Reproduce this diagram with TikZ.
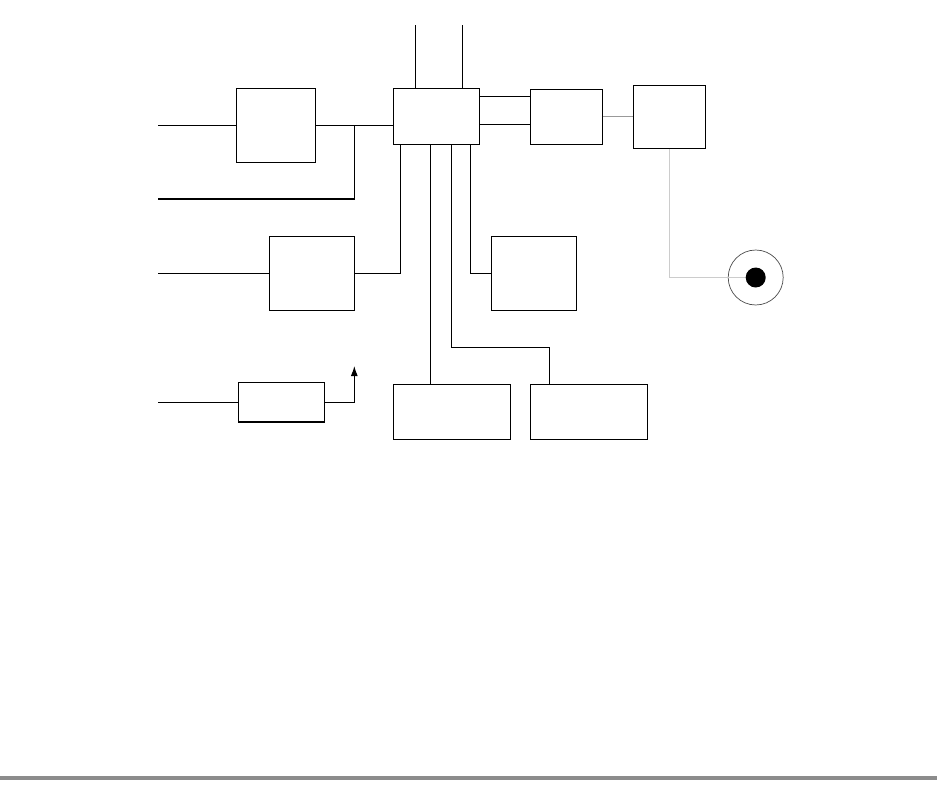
\documentclass[tikz,border=0pt]{standalone}
\usetikzlibrary{arrows.meta,calc}

\begin{document}
\begin{tikzpicture}[
    x=0.02cm, y=-0.02cm,
    blockbox/.style={draw, line width=0.7pt, inner sep=0pt, fill=white},
    wire/.style={line width=0.6pt},
    greywire/.style={line width=0.6pt, black!40},
    palewire/.style={line width=0.6pt, black!20},
    arrow/.style={-{Latex[length=2mm,width=1.4mm]}, line width=0.6pt}
]
\useasboundingbox (0,0) rectangle (937,798);

% Blocks
\node[blockbox, minimum width=1.72cm, minimum height=1.12cm] (hub) at (436.3,116.3) {};
\node[blockbox, minimum width=1.588cm, minimum height=1.48cm] (mixer) at (276,125.3) {};
\node[blockbox, minimum width=1.70cm, minimum height=1.48cm] (filter) at (311.8,273.3) {};
\node[blockbox, minimum width=1.72cm, minimum height=0.794cm] (gain) at (281.3,402.2) {};
\node[blockbox, minimum width=1.44cm, minimum height=1.10cm] (coupler) at (566.3,116.8) {};
\node[blockbox, minimum width=1.448cm, minimum height=1.26cm] (sensor) at (669.5,116.8) {};
\node[blockbox, minimum width=1.708cm, minimum height=1.48cm] (memory) at (534,273.3) {};
\node[blockbox, minimum width=2.34cm, minimum height=1.10cm] (lowleft) at (451.8,411.8) {};
\node[blockbox, minimum width=2.34cm, minimum height=1.10cm] (lowright) at (588.8,411.8) {};

% Free ends
\coordinate (in1) at (158,125.3);
\coordinate (in2) at (158,199);
\coordinate (in3) at (158,273.3);
\coordinate (in4) at (158,402.2);
\coordinate (tip) at (354.3,366);
\coordinate (jn) at (354.3,125.3);

% Hub ports
\coordinate (top1) at ($(hub.north west)+(23,0)$);
\coordinate (top2) at ($(hub.north west)+(70,0)$);
\coordinate (bot1) at ($(hub.south west)+(8,0)$);
\coordinate (bot2) at ($(hub.south west)+(38,0)$);
\coordinate (bot3) at ($(hub.south west)+(59,0)$);
\coordinate (bot4) at ($(hub.south west)+(78,0)$);
\coordinate (rt1) at ($(hub.north east)+(0,9)$);
\coordinate (rt2) at ($(hub.north east)+(0,37)$);

% Inputs
\draw[wire] (in1) -- (mixer.west);
\draw[wire] (mixer.east) -- (mixer.east -| hub.west);
\draw[wire] (in2) -| (jn);
\draw[wire] (in3) -- (filter.west);
\draw[wire] (filter.east) -| (bot1);
\draw[wire] (in4) -- (gain.west);
\draw[arrow] (gain.east) -| (tip);

% Hub top and right
\draw[wire] (top1) -- ++(0,-63);
\draw[wire] (top2) -- ++(0,-63);
\draw[wire] (rt1) -- (rt1 -| coupler.west);
\draw[wire] (rt2) -- (rt2 -| coupler.west);

% Hub bottom
\draw[wire] (bot2) -- (bot2 |- lowleft.north);
\draw[wire] (bot3) -- ++(0,203) -| ($(lowright.north west)+(20,0)$);
\draw[wire] (bot4) |- (memory.west);

% Sensor chain
\draw[greywire] (coupler.east) -- (sensor.west);
\node[draw, circle, line width=0.4pt, black!70, minimum size=1.10cm, inner sep=0pt] (ring) at (755.7,277.5) {};
\draw[palewire] (sensor.south) |- (ring.center);
\node[circle, fill=black, minimum size=0.40cm, inner sep=0pt] (dot) at (ring.center) {};

% Base line
\fill[black!45] (0,776) rectangle (937,780);
\end{tikzpicture}
\end{document}
